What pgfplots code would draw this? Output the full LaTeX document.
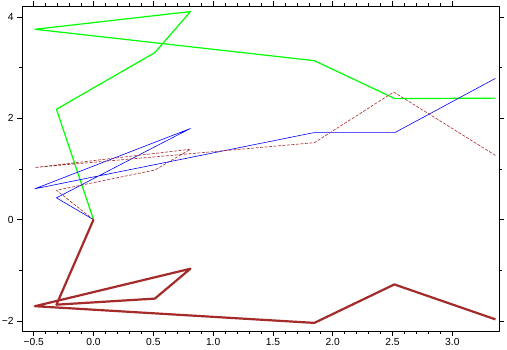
\documentclass[border=0pt]{standalone}
\usepackage{fontspec}
\setmainfont{Liberation Sans}
\usepackage{pgfplots}
\pgfplotsset{compat=1.18}
\definecolor{lgreen}{RGB}{0,255,0}
\definecolor{brn}{RGB}{165,42,42}
\begin{document}
\begin{tikzpicture}
\useasboundingbox (-22bp,-19bp) rectangle (485bp,331bp);
\begin{axis}[
 at={(0,0)}, anchor=south west,
 scale only axis, width=477bp, height=325bp,
 xmin=-0.598, xmax=3.39, ymin=-2.2, ymax=4.22,
 xtick={-0.5,0,0.5,1,1.5,2,2.5,3}, minor x tick num=4,
 xticklabels={−0.5,0.0,0.5,1.0,1.5,2.0,2.5,3.0},
 ytick={-2,0,2,4}, minor y tick num=1,
 yticklabels={−2,0,2,4},
 tick align=outside, tick pos=both,
 xticklabel pos=lower, yticklabel pos=left,
 major tick length=5bp, minor tick length=3bp,
 every tick/.style={black, line width=0.6bp},
 axis line style={line width=0.8bp},
 tick label style={font=\fontsize{10.3}{12}\selectfont},
 xticklabel style={yshift=1bp},
 line join=round,
]
\addplot[lgreen, line width=1.2bp] coordinates {(0,0) (-0.31,2.18) (0.513,3.30) (0.81,4.11) (-0.49,3.76) (1.846,3.14) (2.52,2.39) (3.36,2.40)};
\addplot[blue, line width=0.6bp] coordinates {(0,0) (-0.31,0.43) (0.513,1.44) (0.81,1.80) (-0.49,0.61) (1.846,1.72) (2.52,1.72) (3.36,2.79)};
\addplot[brn, line width=0.6bp, dash pattern=on 3bp off 1.5bp] coordinates {(0,0) (-0.31,0.58) (0.513,0.98) (0.81,1.39) (-0.49,1.03) (1.846,1.52) (2.51,2.52) (3.36,1.27)};
\addplot[brn, line width=2.2bp] coordinates {(0,0) (-0.31,-1.68) (0.513,-1.56) (0.81,-0.97) (-0.49,-1.71) (1.846,-2.04) (2.515,-1.28) (3.36,-1.97)};
\end{axis}
\end{tikzpicture}
\end{document}
